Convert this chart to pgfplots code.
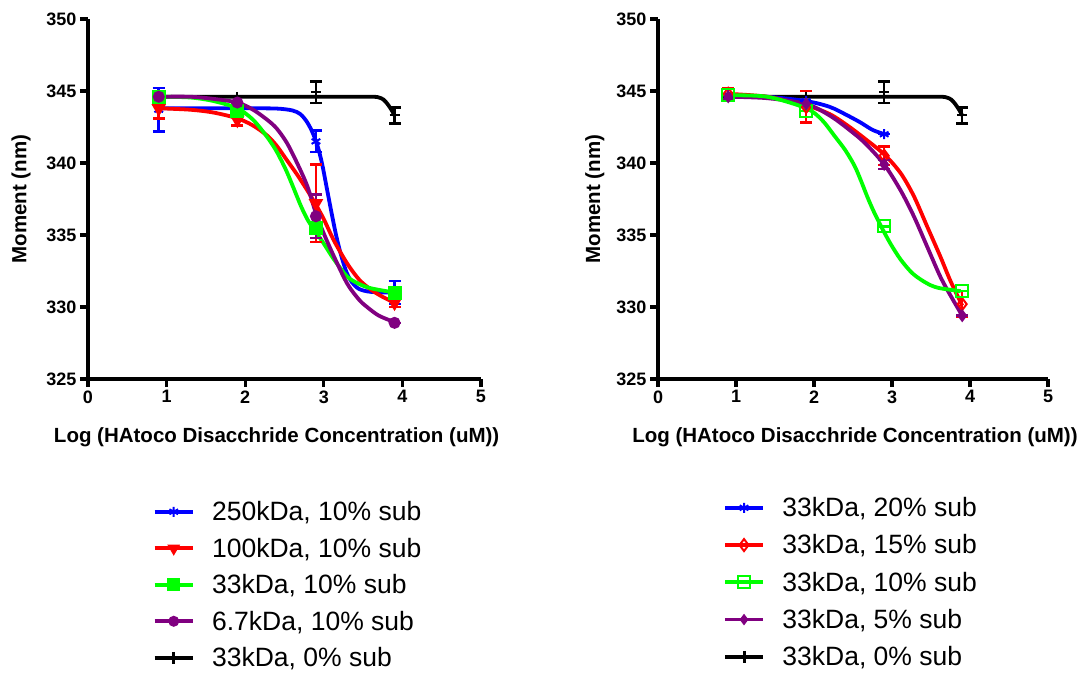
\documentclass[border=0pt]{standalone}
\usepackage{pgfplots}
\pgfplotsset{compat=1.18}
\usepackage{pgfplotstable}
\usepackage{fontspec}
\setmainfont{Liberation Sans}
\definecolor{cblue}{RGB}{0,0,255}
\definecolor{cred}{RGB}{255,0,0}
\definecolor{cgreen}{RGB}{0,255,0}
\definecolor{cpurple}{RGB}{128,0,128}

% ---------- Left panel: measured points (x, y, error) ----------
\pgfplotstableread{
x y e
0.9 343.7 1.5
1.9 343.8 0
2.9 341.5 0.75
3.9 331.0 0.8
}\LblueD
\pgfplotstableread{
x y e
0.9 343.8 0.7
1.9 343.0 0.4
2.9 337.2 2.7
3.9 330.3 0.3
}\LredD
\pgfplotstableread{
x y e
0.9 344.6 0.3
1.9 343.6 0.3
2.9 335.5 0.4
3.9 331.0 0.3
}\LgreenD
\pgfplotstableread{
x y e
0.9 344.6 0
1.9 344.2 0
2.9 336.3 1.5
3.9 328.9 0
}\LpurpleD
\pgfplotstableread{
x y e
0.9 344.6 0
1.9 344.6 0
2.9 344.9 0.75
3.9 343.3 0.55
}\blackD
% ---------- Left panel: fitted curves ----------
\pgfplotstableread{
x y
0.9 343.8
1.5 343.8
2.0 343.8
2.4 343.78
2.6 343.65
2.7 343.4
2.78 342.9
2.85 342.2
2.92 341.2
2.98 339.9
3.04 338.2
3.1 336.5
3.16 334.9
3.22 333.6
3.29 332.4
3.36 331.7
3.45 331.25
3.6 331.05
3.9 331.0
}\LblueC
\pgfplotstableread{
x y
0.9 343.8
1.3 343.7
1.6 343.5
1.9 343.1
2.1 342.6
2.28 341.9
2.4 341.2
2.53 340.2
2.66 339.2
2.79 338.1
2.9 337.1
3.0 336.1
3.13 334.6
3.3 333.0
3.45 331.9
3.6 331.2
3.75 330.7
3.9 330.3
}\LredC
\pgfplotstableread{
x y
0.9 344.6
1.3 344.55
1.6 344.3
1.9 343.8
2.1 343.0
2.28 341.8
2.4 340.8
2.52 339.5
2.62 338.2
2.71 337.0
2.8 336.0
2.9 335.2
3.0 334.4
3.13 333.3
3.3 332.1
3.45 331.6
3.6 331.3
3.9 331.0
}\LgreenC
\pgfplotstableread{
x y
0.9 344.6
1.3 344.6
1.6 344.45
1.9 344.2
2.1 343.7
2.28 343.0
2.4 342.4
2.53 341.4
2.66 340.0
2.79 338.4
2.9 336.5
3.0 335.1
3.13 333.5
3.3 331.6
3.45 330.5
3.55 330.0
3.7 329.4
3.9 328.95
}\LpurpleC
\pgfplotstableread{
x y
0.9 344.6
2.0 344.6
3.0 344.6
3.6 344.6
3.7 344.55
3.76 344.4
3.81 344.1
3.86 343.7
3.9 343.3
}\blackC
% ---------- Right panel: measured points ----------
\pgfplotstableread{
x y e
0.9 344.7 0
1.9 344.3 0
2.9 342.0 0
}\RblueD
\pgfplotstableread{
x y e
0.9 344.8 0.4
1.9 343.9 1.1
2.9 340.5 0.65
3.9 330.2 0.9
}\RredD
\pgfplotstableread{
x y e
0.9 344.7 0
1.9 343.6 0
2.9 335.6 0
3.9 331.1 0
}\RgreenD
\pgfplotstableread{
x y e
0.9 344.6 0.2
1.9 344.1 0
2.9 339.9 0.3
3.9 329.4 0
}\RpurpleD
% ---------- Right panel: fitted curves ----------
\pgfplotstableread{
x y
0.9 344.7
1.4 344.6
1.9 344.3
2.2 343.9
2.43 343.3
2.6 342.8
2.75 342.3
2.9 342.0
}\RblueC
\pgfplotstableread{
x y
0.9 344.8
1.4 344.6
1.9 344.0
2.2 343.4
2.43 342.6
2.65 341.7
2.9 340.6
3.11 339.3
3.28 337.7
3.45 335.6
3.62 333.5
3.75 331.8
3.9 330.1
}\RredC
\pgfplotstableread{
x y
0.9 344.7
1.4 344.6
1.9 343.8
2.1 343.0
2.26 341.9
2.4 340.9
2.52 339.8
2.6 338.8
2.68 337.7
2.76 336.7
2.86 335.6
2.98 334.4
3.11 333.3
3.25 332.4
3.37 331.9
3.5 331.5
3.62 331.3
3.88 331.1
}\RgreenC
\pgfplotstableread{
x y
0.9 344.6
1.4 344.5
1.9 344.1
2.2 343.3
2.43 342.4
2.65 341.4
2.9 339.9
3.11 338.1
3.28 336.3
3.45 334.2
3.62 332.1
3.75 330.8
3.9 329.4
}\RpurpleC

\pgfplotsset{
  gpaxis/.style={
    scale only axis, height=360pt,
    xmin=0, xmax=5, ymin=325, ymax=350,
    axis x line*=bottom, axis y line*=left,
    axis line style={line width=3.2pt, -},
    every tick/.style={black, line width=3.2pt},
    tick align=outside, major tick length=8pt,
    xtick={0,1,2,3,4,5}, ytick={325,330,335,340,345,350},
    /pgf/number format/assume math mode=true,
    ticklabel style={font=\bfseries\fontsize{18}{18}\selectfont},
    label style={font=\bfseries\fontsize{20.5}{20.5}\selectfont},
    xlabel={Log (HAtoco Disacchride Concentration (uM))},
    ylabel={Moment (nm)},
    clip=false,
    legend cell align=left,
    legend style={draw=none, fill=none, inner sep=0pt, outer sep=0pt,
      anchor=north west, font=\fontsize{26.5}{26.5}\selectfont,
      nodes={inner sep=0pt, text height=20pt, text depth=5.5pt},
      /tikz/every odd column/.append style={column sep=17.5pt}},
    legend image code/.code={\draw[mark repeat=2, mark phase=2, #1]
      plot coordinates {(0pt,1.5pt)(19pt,1.5pt)(38pt,1.5pt)};},
  },
  curve/.style={line width=3.8pt, smooth, forget plot, no marks},
  pts/.style={only marks, forget plot, line width=2pt,
    error bars/y dir=both, error bars/y explicit,
    error bars/error bar style={line width=2.5pt},
    error bars/error mark options={rotate=90, mark size=6pt, line width=2.5pt}},
  leg/.style={line width=3.8pt},
}

\begin{document}
\begin{tikzpicture}
\useasboundingbox (0pt,0pt) rectangle (1084pt,674pt);
% ================= LEFT =================
\begin{axis}[gpaxis, width=393pt, at={(88pt,295pt)}, anchor=south west,
  xlabel style={at={(axis description cs:0.48,-0.161)}, anchor=center},
  ylabel style={at={(axis description cs:-0.170,0.5)}, anchor=center},
  legend style={at={(0.165,-0.3376)}, row sep=11pt}]
\addplot[curve, black] table {\blackC};
\addplot[curve, cblue] table {\LblueC};
\addplot[curve, cred] table {\LredC};
\addplot[curve, cgreen] table {\LgreenC};
\addplot[curve, cpurple] table {\LpurpleC};
\addplot[pts, black, mark=+, mark size=5pt] table[y error=e] {\blackD};
\addplot[pts, cblue, mark=asterisk, mark size=5pt] table[y error=e] {\LblueD};
\addplot[pts, cred, mark=triangle*, mark size=6.5pt, mark options={rotate=180}] table[y error=e] {\LredD};
\addplot[pts, cgreen, mark=square*, mark size=6pt] table[y error=e] {\LgreenD};
\addplot[pts, cpurple, mark=*, mark size=5pt] table[y error=e] {\LpurpleD};
\addlegendimage{leg, cblue, mark=asterisk, mark size=5pt, mark options={line width=2pt}}
\addlegendentry{250kDa, 10\% sub}
\addlegendimage{leg, cred, mark=triangle*, mark size=6.5pt, mark options={rotate=180, line width=1pt}}
\addlegendentry{100kDa, 10\% sub}
\addlegendimage{leg, cgreen, mark=square*, mark size=6pt, mark options={line width=1pt}}
\addlegendentry{33kDa, 10\% sub}
\addlegendimage{leg, cpurple, mark=*, mark size=5pt, mark options={line width=1pt}}
\addlegendentry{6.7kDa, 10\% sub}
\addlegendimage{leg, black, mark=|, mark size=6pt, mark options={line width=3pt}}
\addlegendentry{33kDa, 0\% sub}
\end{axis}
% ================= RIGHT =================
\begin{axis}[gpaxis, width=390pt, at={(658pt,295pt)}, anchor=south west,
  xlabel style={at={(axis description cs:0.505,-0.161)}, anchor=center},
  ylabel style={at={(axis description cs:-0.162,0.5)}, anchor=center},
  legend style={at={(0.167,-0.3266)}, row sep=11.75pt}]
\addplot[curve, black] table {\blackC};
\addplot[curve, cblue] table {\RblueC};
\addplot[curve, cred] table {\RredC};
\addplot[curve, cpurple] table {\RpurpleC};
\addplot[curve, cgreen] table {\RgreenC};
\addplot[pts, black, mark=+, mark size=5pt] table[y error=e] {\blackD};
\addplot[pts, cblue, mark=asterisk, mark size=5pt] table[y error=e] {\RblueD};
\addplot[pts, cred, mark=diamond, mark size=6pt] table[y error=e] {\RredD};
\addplot[pts, cgreen, mark=square, mark size=6pt] table[y error=e] {\RgreenD};
\addplot[pts, cpurple, mark=diamond*, mark size=5pt] table[y error=e] {\RpurpleD};
\addlegendimage{leg, cblue, mark=asterisk, mark size=5pt, mark options={line width=2pt}}
\addlegendentry{33kDa, 20\% sub}
\addlegendimage{leg, cred, mark=diamond, mark size=6pt, mark options={line width=2pt, fill=white}}
\addlegendentry{33kDa, 15\% sub}
\addlegendimage{leg, cgreen, mark=square, mark size=6pt, mark options={line width=2pt, fill=white}}
\addlegendentry{33kDa, 10\% sub}
\addlegendimage{leg, cpurple, mark=diamond*, mark size=5pt, mark options={line width=1pt}}
\addlegendentry{33kDa, 5\% sub}
\addlegendimage{leg, black, mark=|, mark size=6pt, mark options={line width=3pt}}
\addlegendentry{33kDa, 0\% sub}
\end{axis}
\end{tikzpicture}
\end{document}
